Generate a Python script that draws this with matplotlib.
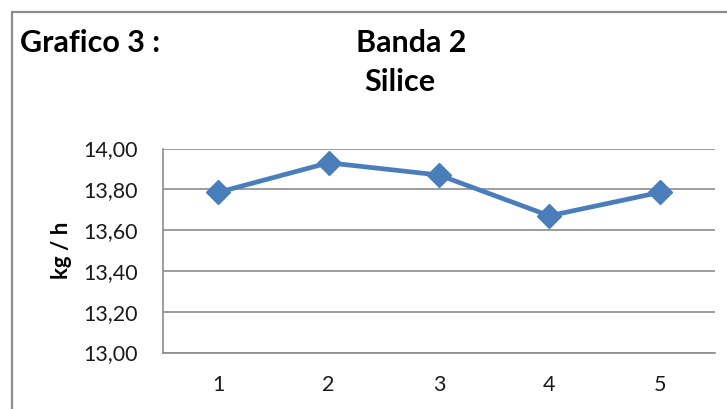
import matplotlib.pyplot as plt
from matplotlib.patches import Rectangle
from matplotlib.ticker import FuncFormatter

plt.rcParams['font.family'] = ['Lato', 'DejaVu Sans']

# silice flow, band 2
samples = [1, 2, 3, 4, 5]
flow = [13.785, 13.93, 13.87, 13.67, 13.785]
y_ticks = [13.0, 13.2, 13.4, 13.6, 13.8, 14.0]

W, H = 727, 409
fig = plt.figure(figsize=(W / 100, H / 100), dpi=100)

# chart frame (runs off the right and bottom edges)
fig.patches.append(Rectangle((12 / W, -0.05), 1.1, 1 - 12 / H + 0.05,
                             transform=fig.transFigure, fill=False,
                             edgecolor='#8c8c8c', linewidth=1.6))

ax = fig.add_axes([163 / W, 1 - 352.5 / H, (715 - 163) / W, (352.5 - 148.5) / H])
ax.plot(samples, flow, color='#4a7ebb', linewidth=3.4, marker='D',
        markersize=12, zorder=3)

ax.set_xlim(0.5, 5.5)
ax.set_ylim(13.0, 14.0)
ax.set_xticks(samples)
ax.set_yticks(y_ticks)
ax.yaxis.set_major_formatter(FuncFormatter(lambda v, p: f"{v:.2f}".replace('.', ',')))
ax.grid(axis='y', color='#8c8c8c', linewidth=1.2)
ax.set_axisbelow(True)
for s in ['top', 'right']:
    ax.spines[s].set_visible(False)
for s in ['left', 'bottom']:
    ax.spines[s].set_color('#8c8c8c')
    ax.spines[s].set_linewidth(1.2)
ax.tick_params(axis='y', length=0, pad=18, labelsize=15.5, labelcolor='#1a1a1a')
ax.tick_params(axis='x', length=0, pad=16, labelsize=15.5, labelcolor='#1a1a1a')

ax.set_ylabel('kg / h', fontsize=16, fontweight='bold', va='center')
ax.yaxis.set_label_coords((62 - 163) / (715 - 163), 0.5)

fig.text(20 / W, 1 - 43 / H, 'Grafico 3 :', fontsize=22, fontweight='bold',
         ha='left', va='center')
fig.text(411 / W, 1 - 43 / H, 'Banda 2', fontsize=22, fontweight='bold',
         ha='center', va='center')
fig.text(400 / W, 1 - 82 / H, 'Silice', fontsize=22, fontweight='bold',
         ha='center', va='center')

fig.savefig('out.png', dpi=100)
